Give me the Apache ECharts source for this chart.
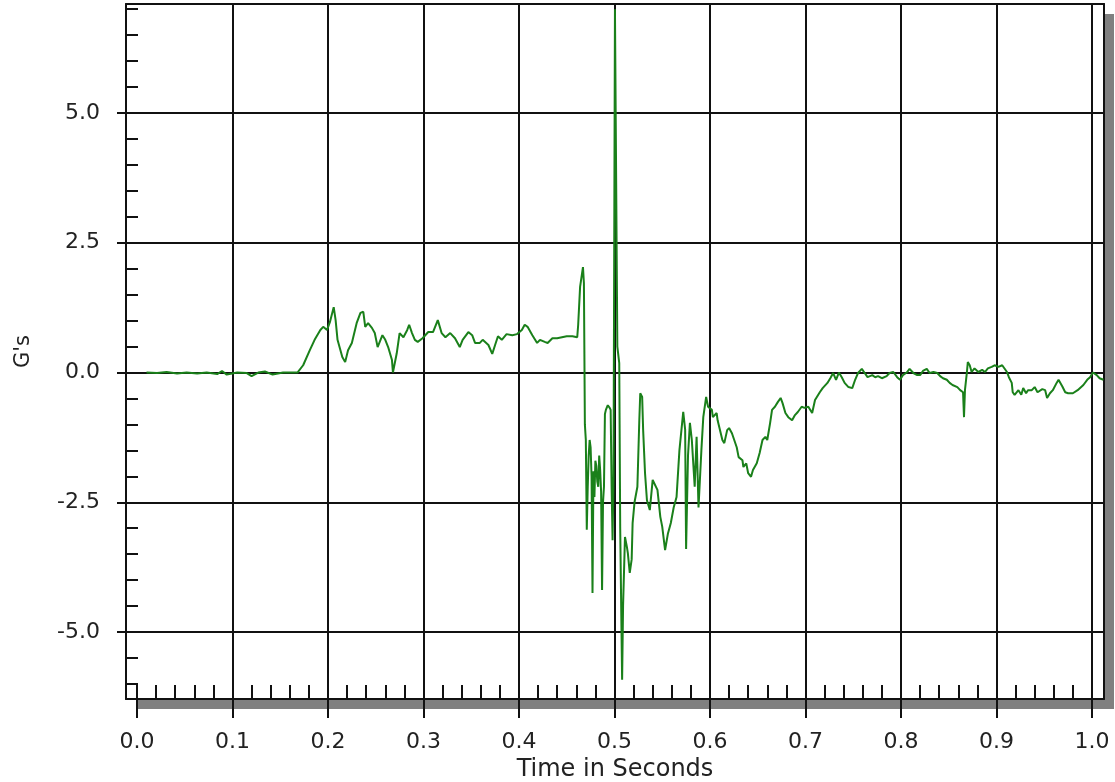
<!DOCTYPE html>
<html>
<head>
<meta charset="utf-8">
<script src="https://cdn.jsdelivr.net/npm/echarts@6/dist/echarts.min.js"></script>
<style>
html,body{margin:0;padding:0;background:#fff;}
#chart{width:1115px;height:782px;}
</style>
</head>
<body>
<div id="chart"></div>
<script>
// [time in seconds, G's]
const quietPhase = [
  [0.010,0.00],[0.021,-0.01],[0.031,0.01],[0.042,-0.02],[0.052,0.00],[0.063,-0.02],[0.073,0.00],
  [0.084,-0.03],[0.089,0.03],[0.094,-0.04],[0.105,0.00],[0.115,-0.01],[0.120,-0.07],[0.127,0.00],
  [0.134,0.02],[0.142,-0.04],[0.153,0.00],[0.163,0.00],[0.168,0.00]
];
const riseAndPlateau = [
  [0.174,0.14],[0.181,0.43],[0.186,0.63],[0.192,0.82],[0.195,0.88],[0.199,0.82],[0.202,0.97],
  [0.206,1.26],[0.208,1.01],[0.210,0.63],[0.215,0.30],[0.218,0.20],[0.221,0.43],[0.225,0.57],
  [0.230,0.95],[0.234,1.15],[0.237,1.17],[0.239,0.88],[0.242,0.95],[0.246,0.86],[0.249,0.76],
  [0.252,0.49],[0.257,0.72],[0.260,0.63],[0.263,0.49],[0.267,0.24],[0.268,0.00],[0.270,0.00],
  [0.272,0.37],[0.275,0.76],[0.279,0.68],[0.283,0.82],[0.285,0.92],[0.288,0.76],[0.291,0.63],
  [0.294,0.59],[0.299,0.66],[0.305,0.78],[0.310,0.78],[0.315,1.01],[0.319,0.76],[0.323,0.68],
  [0.328,0.76],[0.333,0.66],[0.338,0.49],[0.341,0.63],[0.347,0.78],[0.351,0.72],[0.354,0.57],
  [0.359,0.57],[0.362,0.63],[0.368,0.53],[0.372,0.36],[0.375,0.53],[0.378,0.70],[0.382,0.63],
  [0.387,0.74],[0.393,0.72],[0.398,0.74],[0.403,0.82],[0.406,0.92],[0.409,0.88],[0.414,0.72],
  [0.419,0.57],[0.422,0.63],[0.427,0.59],[0.430,0.57],[0.435,0.66],[0.440,0.66],[0.445,0.68],
  [0.450,0.70],[0.456,0.70],[0.461,0.68],[0.462,0.92],[0.464,1.65],[0.467,2.03],[0.468,1.72]
];
const impactPhase = [
  [0.469,-1.00],[0.470,-1.30],[0.471,-3.03],[0.472,-2.20],[0.473,-1.60],[0.474,-1.30],[0.475,-1.44],
  [0.476,-2.00],[0.477,-4.25],[0.478,-1.90],[0.479,-2.40],[0.480,-1.70],[0.481,-1.80],[0.482,-2.10],
  [0.483,-2.20],[0.484,-1.60],[0.485,-1.88],[0.486,-2.30],[0.487,-4.19],[0.488,-2.50],[0.489,-2.20],
  [0.490,-0.80],[0.491,-0.72],[0.493,-0.63],[0.495,-0.68],[0.496,-0.72],[0.497,-2.20],[0.498,-3.23],
  [0.499,-2.00],[0.5005,7.00],[0.503,0.50],[0.505,0.18],[0.506,-3.00],[0.508,-5.92],[0.509,-4.50],
  [0.511,-3.17],[0.513,-3.36],[0.514,-3.48],[0.516,-3.86],[0.518,-3.60],[0.519,-2.90],[0.521,-2.50],
  [0.524,-2.20],[0.526,-0.92],[0.527,-0.40],[0.529,-0.47],[0.530,-1.10],[0.532,-1.94],[0.534,-2.46],
  [0.537,-2.65],[0.540,-2.07],[0.545,-2.26],[0.548,-2.78],[0.550,-2.97],[0.553,-3.42],[0.556,-3.10],
  [0.559,-2.90],[0.562,-2.60],[0.565,-2.40],[0.568,-1.50],[0.572,-0.76],[0.574,-1.10],[0.575,-3.40],
  [0.577,-1.60],[0.579,-0.97],[0.581,-1.30],[0.584,-2.20],[0.586,-1.24],[0.588,-2.60],[0.591,-1.50],
  [0.593,-0.86],[0.596,-0.47]
];
const recoveryPhase = [
  [0.598,-0.66],[0.602,-0.72],[0.603,-0.86],[0.607,-0.78],[0.608,-0.92],[0.613,-1.30],[0.615,-1.36],
  [0.618,-1.11],[0.620,-1.07],[0.623,-1.17],[0.625,-1.17],[0.628,-1.44],[0.630,-1.63],[0.634,-1.69],
  [0.635,-1.82],[0.638,-1.75],[0.640,-1.94],[0.643,-2.01],[0.645,-1.88],[0.649,-1.75],[0.652,-1.55],
  [0.655,-1.30],[0.658,-1.24],[0.660,-1.30],[0.663,-0.97],[0.665,-0.72],[0.668,-0.66],[0.671,-0.57],
  [0.674,-0.49],[0.676,-0.59],[0.679,-0.78],[0.682,-0.86],[0.686,-0.92],[0.689,-0.82],[0.692,-0.76],
  [0.696,-0.66],[0.699,-0.68],[0.703,-0.66],[0.707,-0.78],[0.710,-0.53],[0.715,-0.38],[0.718,-0.30],
  [0.723,-0.20],[0.726,-0.11],[0.729,-0.01],[0.732,-0.14],[0.735,0.00],[0.738,-0.09],[0.741,-0.20],
  [0.745,-0.28],[0.749,-0.30],[0.752,-0.14],[0.755,-0.01],[0.759,0.07],[0.762,-0.01],[0.765,-0.09],
  [0.770,-0.05],[0.773,-0.09],[0.776,-0.07],[0.780,-0.11],[0.785,-0.07],[0.788,-0.01],[0.792,0.01],
  [0.796,-0.09],[0.799,-0.14],[0.802,-0.05],[0.806,0.00],[0.809,0.07],[0.813,-0.01],[0.817,-0.05],
  [0.820,-0.05],[0.823,0.03],[0.827,0.07],[0.830,-0.01],[0.834,0.01],[0.838,-0.01],[0.841,-0.07],
  [0.844,-0.11],[0.848,-0.14],[0.851,-0.20],[0.854,-0.24],[0.859,-0.28],[0.862,-0.34],[0.865,-0.38],
  [0.866,-0.86],[0.867,-0.34],[0.869,0.00],[0.870,0.20],[0.872,0.14],[0.874,0.01],[0.877,0.08],
  [0.881,0.01],[0.885,0.05],[0.888,0.01],[0.891,0.08],[0.895,0.11],[0.898,0.14],[0.902,0.11],
  [0.906,0.14],[0.908,0.11],[0.911,0.01],[0.913,-0.09],[0.916,-0.20],[0.917,-0.38],[0.919,-0.43],
  [0.923,-0.34],[0.926,-0.43],[0.928,-0.30],[0.931,-0.40],[0.933,-0.34],[0.937,-0.34],[0.940,-0.28],
  [0.943,-0.38],[0.948,-0.32],[0.951,-0.34],[0.953,-0.49],[0.956,-0.40],[0.959,-0.34],[0.963,-0.20],
  [0.965,-0.14],[0.969,-0.27],[0.972,-0.38],[0.975,-0.40],[0.980,-0.40],[0.985,-0.34],[0.991,-0.24],
  [0.995,-0.14],[0.998,-0.09],[1.001,0.00],[1.005,-0.05],[1.008,-0.11],[1.012,-0.14]
];

const xTickValues = [0.0,0.1,0.2,0.3,0.4,0.5,0.6,0.7,0.8,0.9,1.0];
const xGridValues = [0.1,0.2,0.3,0.4,0.5,0.6,0.7,0.8,0.9,1.0];
const yTickValues = [-5.0,-2.5,0.0,2.5,5.0];
const xRange = [-0.0115, 1.0126];
const yRange = [-6.29, 7.1];

const trace = quietPhase.concat(riseAndPlateau, impactPhase, recoveryPhase);

const FONT = 'DejaVu Sans';
const INK = '#111';
const PLOT_HEIGHT = 782 - 4 - 83;

const bareAxis = {
  axisLine: {show: false, onZero: false},
  axisTick: {show: false},
  axisLabel: {show: false},
  splitLine: {show: false},
  minorTick: {show: false},
  minorSplitLine: {show: false}
};

const chart = echarts.init(document.getElementById('chart'), null, {renderer: 'canvas'});
chart.setOption({
  animation: false,
  backgroundColor: '#ffffff',
  grid: {
    left: 126, right: 11, top: 4, bottom: 83,
    outerBoundsMode: 'none',
    containLabel: false,
    show: true,
    backgroundColor: '#ffffff',
    borderWidth: 0,
    borderColor: 'transparent',
    shadowColor: '#808080',
    shadowBlur: 0,
    shadowOffsetX: 10,
    shadowOffsetY: 10
  },
  xAxis: [
    Object.assign({}, bareAxis, {
      type: 'value',
      min: xRange[0], max: xRange[1],
      minInterval: 0.1, maxInterval: 0.1,
      position: 'bottom',
      name: 'Time in Seconds',
      nameLocation: 'middle',
      nameGap: 59,
      nameTextStyle: {fontFamily: FONT, fontSize: 24, color: '#222'},
      axisLine: {show: true, onZero: false, lineStyle: {color: INK, width: 2}},
      axisTick: {show: true, inside: false, length: 19, customValues: xTickValues, lineStyle: {color: INK, width: 2}},
      axisLabel: {
        show: true, margin: 32, customValues: xTickValues,
        fontFamily: FONT, fontSize: 22, color: '#222',
        formatter: v => v.toFixed(1)
      }
    }),
    Object.assign({}, bareAxis, {
      type: 'value',
      min: xRange[0], max: xRange[1],
      minInterval: 0.1, maxInterval: 0.1,
      position: 'bottom',
      axisTick: {show: true, inside: true, length: 14, customValues: xTickValues, lineStyle: {color: INK, width: 2}},
      minorTick: {show: true, splitNumber: 5, length: 14, lineStyle: {color: INK, width: 2}}
    }),
    Object.assign({}, bareAxis, {
      type: 'value',
      min: xRange[0], max: xRange[1],
      minInterval: 0.1, maxInterval: 0.1,
      position: 'top',
      axisLine: {show: true, onZero: false, lineStyle: {color: INK, width: 2}},
      axisTick: {show: true, inside: true, length: PLOT_HEIGHT, customValues: xGridValues, lineStyle: {color: INK, width: 2}}
    })
  ],
  yAxis: [
    Object.assign({}, bareAxis, {
      type: 'value',
      min: yRange[0], max: yRange[1],
      minInterval: 2.5, maxInterval: 2.5,
      position: 'left',
      name: "G's",
      nameLocation: 'middle',
      nameGap: 92,
      nameTextStyle: {fontFamily: FONT, fontSize: 21, color: '#222'},
      axisLine: {show: true, onZero: false, lineStyle: {color: INK, width: 2}},
      axisTick: {show: true, inside: false, length: 9, customValues: yTickValues, lineStyle: {color: INK, width: 2}},
      axisLabel: {
        show: true, margin: 26, customValues: yTickValues,
        fontFamily: FONT, fontSize: 22, color: '#222',
        formatter: v => v.toFixed(1)
      },
      splitLine: {show: true, lineStyle: {color: INK, width: 2}}
    }),
    Object.assign({}, bareAxis, {
      type: 'value',
      min: yRange[0], max: yRange[1],
      minInterval: 2.5, maxInterval: 2.5,
      position: 'left',
      axisTick: {show: true, inside: true, length: 12, customValues: yTickValues, lineStyle: {color: INK, width: 2}},
      minorTick: {show: true, splitNumber: 5, length: 12, lineStyle: {color: INK, width: 2}}
    }),
    Object.assign({}, bareAxis, {
      type: 'value',
      min: yRange[0], max: yRange[1],
      position: 'right',
      axisLine: {show: true, onZero: false, lineStyle: {color: INK, width: 2}}
    })
  ],
  series: [
    {
      type: 'line',
      xAxisIndex: 0,
      yAxisIndex: 0,
      data: trace,
      showSymbol: false,
      symbol: 'none',
      sampling: null,
      lineStyle: {color: '#1a801a', width: 2},
      z: 5
    }
  ]
});
</script>
</body>
</html>
